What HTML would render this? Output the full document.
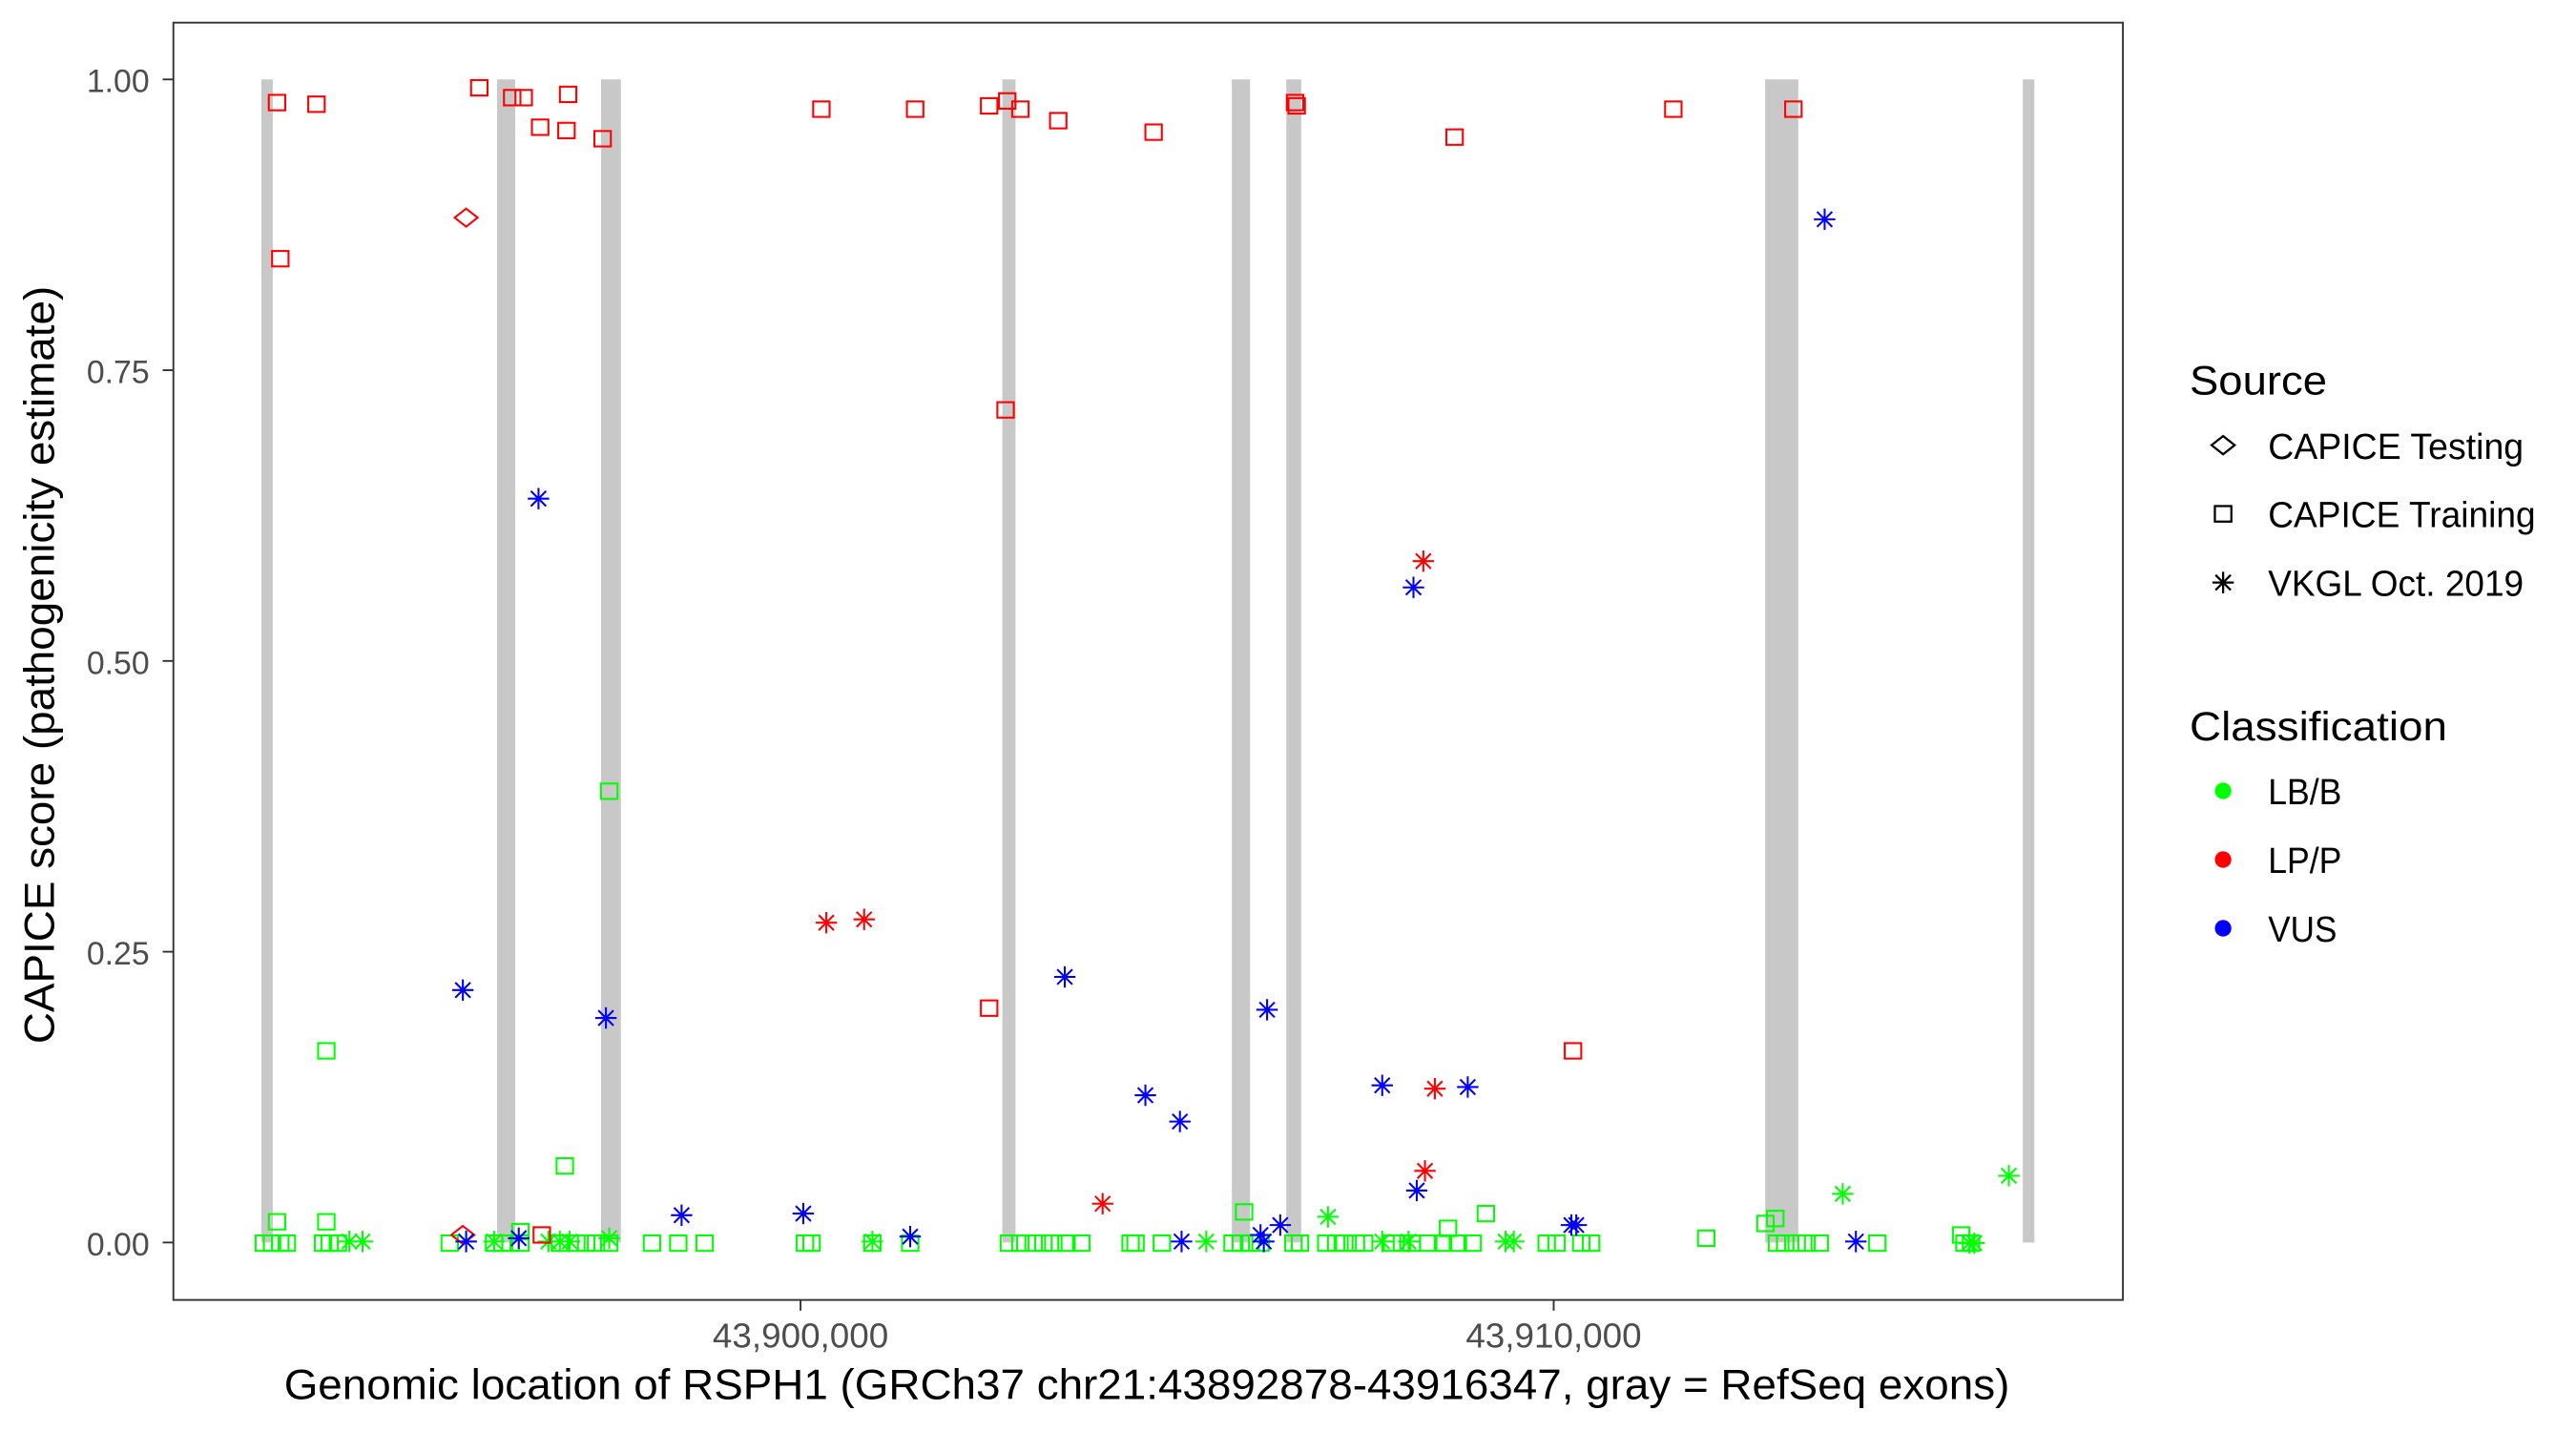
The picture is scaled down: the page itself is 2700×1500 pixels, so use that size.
<!DOCTYPE html>
<html><head><meta charset="utf-8"><style>
html,body{margin:0;padding:0;background:#fff;}
svg{display:block;font-family:"Liberation Sans",sans-serif;}
</style></head><body>
<svg id="s" width="2700" height="1500" viewBox="0 0 1560 866.67" preserveAspectRatio="none" xmlns="http://www.w3.org/2000/svg">
<rect x="0" y="0" width="1560" height="866.67" fill="#fff"/>
<g id="bars" fill="#c8c8c8"></g>
<g id="pts" fill="none" stroke-width="1.2" transform="translate(0.42,-0.572) scale(0.996,0.99534)"></g>
<rect x="105" y="13.7" width="1180.6" height="773.6" fill="none" stroke="#333" stroke-width="1.1"/>
<g stroke="#333" stroke-width="1.1">
<line x1="98.5" x2="105" y1="48.1" y2="48.1"/><line x1="98.5" x2="105" y1="224.2" y2="224.2"/><line x1="98.5" x2="105" y1="400.3" y2="400.3"/><line x1="98.5" x2="105" y1="576.4" y2="576.4"/><line x1="98.5" x2="105" y1="752.5" y2="752.5"/>
<line x1="484.8" x2="484.8" y1="787.3" y2="793.8"/><line x1="940.9" x2="940.9" y1="787.3" y2="793.8"/>
</g>
<g fill="#4d4d4d" font-size="20" text-anchor="end">
<text x="90.5" y="55.9" textLength="38" lengthAdjust="spacingAndGlyphs">1.00</text>
<text x="90.5" y="232" textLength="38" lengthAdjust="spacingAndGlyphs">0.75</text>
<text x="90.5" y="408.1" textLength="38" lengthAdjust="spacingAndGlyphs">0.50</text>
<text x="90.5" y="584.2" textLength="38" lengthAdjust="spacingAndGlyphs">0.25</text>
<text x="90.5" y="760.3" textLength="38" lengthAdjust="spacingAndGlyphs">0.00</text>
</g>
<g fill="#4d4d4d" font-size="21" text-anchor="middle">
<text x="484.8" y="816.2" textLength="106.5" lengthAdjust="spacingAndGlyphs">43,900,000</text>
<text x="940.9" y="816.2" textLength="106.5" lengthAdjust="spacingAndGlyphs">43,910,000</text>
</g>
<text x="694.5" y="847.4" font-size="25.5" text-anchor="middle" fill="#000" textLength="1045" lengthAdjust="spacingAndGlyphs">Genomic location of RSPH1 (GRCh37 chr21:43892878-43916347, gray = RefSeq exons)</text>
<text transform="translate(32.6,402.7) rotate(-90)" font-size="25.5" text-anchor="middle" fill="#000" textLength="459" lengthAdjust="spacingAndGlyphs">CAPICE score (pathogenicity estimate)</text>
<text x="1326" y="238.8" font-size="24.7" textLength="83.2" lengthAdjust="spacingAndGlyphs">Source</text>
<text x="1373.5" y="277.9" font-size="22" textLength="154.8" lengthAdjust="spacingAndGlyphs">CAPICE Testing</text>
<text x="1373.5" y="319.3" font-size="22" textLength="162" lengthAdjust="spacingAndGlyphs">CAPICE Training</text>
<text x="1373.5" y="360.7" font-size="22" textLength="154.8" lengthAdjust="spacingAndGlyphs">VKGL Oct. 2019</text>
<text x="1326" y="448.4" font-size="24.7" textLength="156" lengthAdjust="spacingAndGlyphs">Classification</text>
<text x="1373.5" y="487" font-size="22" textLength="44.6" lengthAdjust="spacingAndGlyphs">LB/B</text>
<text x="1373.5" y="528.8" font-size="22" textLength="44.6" lengthAdjust="spacingAndGlyphs">LP/P</text>
<text x="1373.5" y="570.3" font-size="22" textLength="41.7" lengthAdjust="spacingAndGlyphs">VUS</text>
<g id="leg" fill="none" stroke="#000" stroke-width="1.3"></g>
<circle cx="1346.3" cy="479" r="5" fill="#00ff00"/>
<circle cx="1346.3" cy="520.6" r="5" fill="#ff0000"/>
<circle cx="1346.3" cy="562.2" r="5" fill="#0000ff"/>
</svg>
<script>
var NS="http://www.w3.org/2000/svg";
function el(p,t,a){var e=document.createElementNS(NS,t);for(var k in a)e.setAttribute(k,a[k]);p.appendChild(e);return e;}
var bars=document.getElementById('bars');
[[158.3,165.2],[301,312],[364,376],[607,615],[746,757],[779,788],[1069,1089],[1225,1232]].forEach(function(b){el(bars,'rect',{x:b[0],y:48.1,width:b[1]-b[0],height:704.4});});
var g=document.getElementById('pts');
function sq(p,x,y,c){el(p,'rect',{x:x-5,y:y-4.7,width:10,height:9.4,stroke:c});}
function di(p,x,y,c){el(p,'path',{d:'M'+(x-7)+' '+y+'L'+x+' '+(y-5.5)+'L'+(x+7)+' '+y+'L'+x+' '+(y+5.5)+'Z',stroke:c});}
function as(p,x,y,c){var r=6.5,d=4.6;el(p,'path',{d:'M'+(x-r)+' '+y+'H'+(x+r)+'M'+x+' '+(y-r)+'V'+(y+r)+'M'+(x-d)+' '+(y-d)+'L'+(x+d)+' '+(y+d)+'M'+(x-d)+' '+(y+d)+'L'+(x+d)+' '+(y-d),stroke:c});}
var R='#ff0000',B='#0000ff',G='#00ff00';
var gsq=[[198,640],[343,710],[370,482],[168,744],[198,744],[756,738],[880,748],[903,739],[1079,742],[1073,745],[1192,752],[1037,754],[316,750]];
[160,165,170,174,196,200,205,273,300,305,310,316,340,350,356,362,370,396,412,428,489,493,530,553,613,620,628,634,640,648,657,687,690,706,749,754,760,766,786,790,806,812,817,824,829,846,852,858,868,877,886,895,940,946,961,967,1080,1085,1092,1098,1106,1141,1194,1198].forEach(function(x){gsq.push([x,757]);});
gsq.forEach(function(p){sq(g,p[0],p[1],G);});
[[212,756],[220,756],[283,756],[300,756],[333,756],[340,756],[346,756],[370,754],[530,756],[733,756],[807,741],[840,756],[856,756],[915,756],[920,756],[1120,727],[1221,716],[1197,757],[1200,757]].forEach(function(p){as(g,p[0],p[1],G);});
[[168,63],[192,64],[291,54],[311,60],[318,60],[328,78],[345,58],[344,80],[366,85],[170,158],[499,67],[556,67],[601,65],[612,62],[620,67],[643,74],[701,81],[611,250],[601,614],[787,63],[788,65],[884,84],[1017,67],[1090,67],[956,640],[329,752]].forEach(function(p){sq(g,p[0],p[1],R);});
di(g,283,133,R);di(g,281,752,R);
[[502,562],[525,560],[865,342],[872,663],[866,713],[670,733]].forEach(function(p){as(g,p[0],p[1],R);});
[[281,603],[327,304],[368,620],[414,740],[488,739],[553,753],[647,595],[696,667],[717,683],[770,615],[840,661],[859,358],[892,662],[861,725],[718,756],[766,752],[778,746],[955,746],[958,746],[1109,134],[1128,756],[315,754],[283,756],[768,756]].forEach(function(p){as(g,p[0],p[1],B);});
var L=document.getElementById('leg');
di(L,1346.3,269.6,'#000');sq(L,1346.3,311.2,'#000');as(L,1346.3,352.8,'#000');
</script>
</body></html>
